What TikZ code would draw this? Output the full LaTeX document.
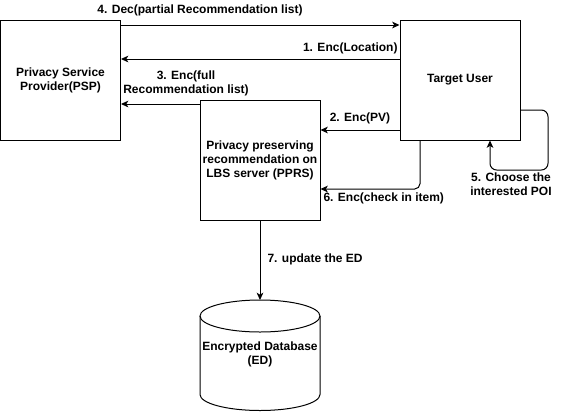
\documentclass[tikz,border=0pt]{standalone}
\usepackage{fontspec}
\setmainfont{Liberation Sans}
\usetikzlibrary{arrows.meta}

\tikzset{every picture/.style={line width=0.75pt}}
\tikzset{
  box/.style={draw, minimum width=90pt, minimum height=90pt, inner sep=0.75pt, align=center, font=\bfseries\fontsize{9}{10.5}\selectfont},
  lbl/.style={inner sep=0.75pt, align=center, font=\bfseries\fontsize{9}{10.5}\selectfont},
  arr/.style={-{Stealth[length=5.5pt,width=5pt,inset=1.5pt]}},
}

\begin{document}
\begin{tikzpicture}[x=0.75pt,y=0.75pt,yscale=-1,xscale=1]
\useasboundingbox (0,0) rectangle (569,412);

%Shape: Rectangle [psp]
\node (psp) [box] at (60.5,80) {Privacy Service\\Provider(PSP)};
%Shape: Rectangle [tu]
\node (tu) [box] at (460,80) {Target User};
%Shape: Rectangle [pprs]
\node (pprs) [box] at (260,160) {Privacy preserving\\recommendation on\\LBS server (PPRS)};
%Shape: Can [ed]
\draw (200,316) -- (200,394.5) arc [start angle=180, end angle=0, x radius=60, y radius=16] -- (320,316) ;
\draw (260,316) ellipse [x radius=60, y radius=16] ;
\coordinate (edtop) at (260,300) ;
\node (ed) [lbl] at (260,354.5) {Encrypted Database\\(ED)};

%Straight Lines [4]
\draw [arr] (psp.east |- 0,25) -- (tu.west |- 0,25) ;
%Straight Lines [1]
\draw [arr] (tu.west |- 0,59) -- (psp.east |- 0,59) ;
%Straight Lines [3]
\draw [arr] (pprs.west |- 0,104) -- (psp.east |- 0,104) ;
%Straight Lines [2]
\draw [arr] (tu.west |- 0,130) -- (pprs.east |- 0,130) ;
%Elbow Lines [6]
\draw [arr, rounded corners=4] (tu.south -| 420,0) -- (420,189) -- (pprs.east |- 0,189) ;
%Elbow Lines [5]
\draw [arr, rounded corners=5] (tu.east |- 0,110) -- (548,110) -- (548,170) -- (490,170) -- (tu.south -| 490,0) ;
%Straight Lines [7]
\draw [arr] (pprs.south) -- (edtop) ;

% Text Node
\node (l4) [lbl] at (200,10) {4. Dec(partial Recommendation list)};
% Text Node
\node (l1) [lbl, anchor=east] at (399,48) {1. Enc(Location)};
% Text Node
\node (l3) [lbl] at (186,83) {3. Enc(full\\Recommendation list)};
% Text Node
\node (l2) [lbl] at (360,118) {2. Enc(PV)};
% Text Node
\node (l6) [lbl, anchor=west] at (322,198) {6. Enc(check in item)};
% Text Node
\node (l5) [lbl] at (511,184) {5. Choose the\\interested POI};
% Text Node
\node (l7) [lbl, anchor=west] at (266,259) {7. update the ED};

\end{tikzpicture}
\end{document}
